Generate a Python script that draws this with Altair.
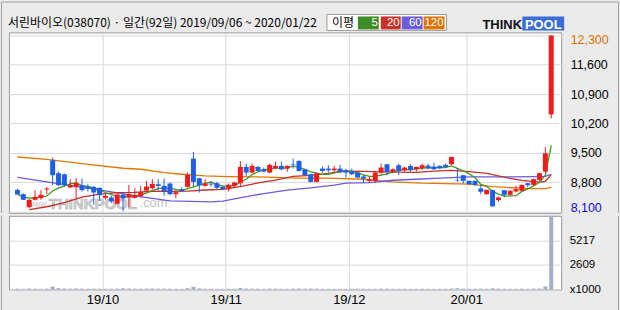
import altair as alt
import pandas as pd

# ---------------- data ----------------
opens = [8613, 8510, 8201, 8376, 8415, 8622, 9319, 9010, 8986, 8669,
         8677, 8725, 8685, 8685, 8661, 8423, 8430, 8280, 8494, 8431,
         8423, 8463, 8597, 8653, 8748, 8709, 8764, 8510, 8630, 8685,
         9359, 8891, 8709, 8760, 8772, 8685, 8629, 8709, 8772, 9161,
         9026, 9161, 9105, 9026, 9129, 9185, 9121, 9224, 9303, 9105,
         8986, 8804, 9121, 9121, 9081, 9121, 9081, 9050, 9026, 8931,
         8827, 8827, 9026, 9224, 9042, 9200, 9081, 9185, 9105, 9129,
         9192, 9168, 9185, 9209, 9225, 8840, 8963, 8829, 8829, 8646,
         8511, 8606, 8368, 8606, 8496, 8575, 8590, 8773, 8733, 8852,
         9051, 10415]
highs = [8640, 8530, 8390, 8606, 8606, 8685, 9383, 9050, 9000, 8867,
         8891, 8883, 8748, 8700, 8670, 8510, 8471, 8520, 8550, 8732,
         8661, 8709, 8828, 8867, 8867, 8883, 8788, 8606, 8670, 9026,
         9518, 8900, 8867, 8820, 8800, 8700, 8765, 8812, 9303, 9240,
         9240, 9185, 9145, 9240, 9288, 9288, 9200, 9359, 9320, 9110,
         9002, 9026, 9170, 9200, 9184, 9208, 9121, 9121, 9030, 8970,
         8930, 9042, 9240, 9230, 9129, 9240, 9161, 9224, 9170, 9240,
         9240, 9260, 9200, 9240, 9405, 9130, 8965, 8835, 8835, 8733,
         8614, 8610, 8456, 8610, 8606, 8710, 8733, 8775, 8884, 9027,
         9637, 12300]
lows = [8500, 8370, 8180, 8360, 8376, 8510, 8725, 8700, 8685, 8660,
        8407, 8574, 8574, 8257, 8352, 8376, 8300, 8270, 8100, 8193,
        8407, 8431, 8566, 8630, 8606, 8471, 8487, 8415, 8570, 8669,
        8685, 8550, 8690, 8690, 8630, 8610, 8575, 8685, 8685, 8946,
        9010, 9050, 9026, 9010, 9105, 9081, 9050, 9121, 9050, 8950,
        8788, 8788, 9026, 9026, 9026, 9010, 8907, 8962, 8891, 8772,
        8788, 8788, 8986, 8962, 9010, 8970, 9050, 9050, 9050, 9089,
        9105, 9089, 9105, 9145, 9209, 8805, 8765, 8725, 8710, 8511,
        8495, 8218, 8329, 8432, 8472, 8551, 8575, 8670, 8710, 8828,
        9027, 10320]
closes = [8502, 8376, 8376, 8447, 8495, 8646, 8962, 8725, 8725, 8725,
          8772, 8606, 8638, 8550, 8487, 8471, 8340, 8502, 8407, 8510,
          8494, 8558, 8693, 8756, 8709, 8582, 8510, 8558, 8582, 8970,
          8804, 8725, 8764, 8740, 8661, 8630, 8733, 8788, 9161, 9026,
          9185, 9065, 9050, 9208, 9185, 9105, 9185, 9210, 9065, 8962,
          8804, 9010, 9065, 9081, 9121, 9050, 9026, 8986, 8907, 8883,
          8867, 9026, 9145, 9042, 9105, 9065, 9145, 9089, 9161, 9200,
          9129, 9105, 9130, 9161, 9400, 8830, 8829, 8750, 8733, 8567,
          8614, 8218, 8432, 8496, 8590, 8630, 8733, 8725, 8868, 9011,
          9487, 12300]
vols = [95, 80, 110, 90, 85, 100, 320, 150, 110, 90,
        120, 95, 80, 100, 90, 85, 90, 100, 130, 110,
        95, 90, 100, 110, 95, 100, 90, 85, 80, 140,
        300, 130, 90, 85, 80, 75, 90, 85, 180, 110,
        100, 90, 85, 100, 95, 90, 85, 100, 110, 95,
        105, 100, 85, 80, 75, 80, 85, 90, 95, 85,
        80, 90, 100, 95, 85, 90, 80, 75, 80, 85,
        80, 75, 80, 85, 110, 140, 95, 90, 85, 100,
        90, 130, 95, 90, 85, 80, 95, 85, 100, 110,
        330, 7826]

ma20_i = [2, 5, 8, 11, 14, 17, 20, 23, 26, 29, 32, 35, 38, 41, 44, 47, 50,
          53, 56, 59, 62, 65, 68, 71, 74, 77, 80, 84, 86, 88, 89, 90, 91]
ma20_v = [8140, 8210, 8310, 8440, 8510, 8545, 8555, 8580, 8575, 8585, 8610,
          8625, 8690, 8780, 8845, 8935, 8960, 9005, 9060, 9055, 9045, 9035,
          9030, 9060, 9080, 9050, 9005, 8885, 8842, 8808, 8800, 8818, 8976]
ma60_i = [0, 5, 10, 15, 20, 26, 33, 35, 39, 42, 46, 50, 54, 56, 60, 64, 68,
          72, 77, 82, 88, 90, 91]
ma60_v = [8910, 8803, 8696, 8589, 8470, 8351, 8327, 8344, 8453, 8524, 8605,
          8660, 8724, 8772, 8786, 8843, 8867, 8891, 8922, 8922, 8929, 8935, 8986]
ma120_i = [0, 5, 11, 18, 21, 25, 28, 32, 36, 41, 48, 53, 59, 62, 64, 69, 77,
           81, 87, 90, 91]
ma120_v = [9398, 9343, 9238, 9129, 9105, 9024, 8986, 8946, 8929, 8922, 8891,
           8891, 8867, 8827, 8803, 8772, 8748, 8691, 8643, 8643, 8671]

price_ticks = [8100, 8800, 9500, 10200, 10900, 11600, 12300]
vol_ticks = [0, 2609, 5217]
month_pos = [14.5, 35.5, 56.5, 76.5]
month_labels = ['19/10', '19/11', '19/12', '20/01']

title_text = '서린바이오(038070) · 일간(92일) 2019/09/06 ~ 2020/01/22'
ma_names = ['5', '20', '60', '120']

# ---------------- styling ----------------
UP = '#f01c1c'
DOWN = '#1f5fe6'
C5 = '#3d9a1e'
C20 = '#c4302b'
C60 = '#6a5ce0'
C120 = '#e07800'
GRID = '#d9d9d9'
FRAME = '#a0a0a0'
FONT = 'Liberation Sans'

df = pd.DataFrame({'i': list(range(len(opens))), 'open': opens, 'high': highs,
                   'low': lows, 'close': closes, 'vol': vols})
ma20 = pd.DataFrame({'i': ma20_i, 'v': ma20_v})
ma60 = pd.DataFrame({'i': ma60_i, 'v': ma60_v})
ma120 = pd.DataFrame({'i': ma120_i, 'v': ma120_v})

xscale = alt.Scale(domain=[-0.6, 91.85], nice=False, zero=False)
pscale = alt.Scale(domain=[8065, 12373], nice=False, zero=False)

px_axis = alt.Axis(values=month_pos, labels=False, ticks=False, domain=False,
                   grid=True, gridColor=GRID, title=None)
py_axis = alt.Axis(
    orient='right', values=price_ticks, format=',d', grid=True, gridColor=GRID,
    ticks=False, domain=False, labelPadding=9, labelFont=FONT, labelFontSize=12.5,
    labelColor={"condition": [{"test": "datum.value == 12300", "value": "#e07000"},
                              {"test": "datum.value == 8100", "value": "#0c0cd0"}],
                "value": "#000000"},
    labelOffset={"condition": [{"test": "datum.value == 12300", "value": 4},
                               {"test": "datum.value == 8100", "value": -4}],
                 "value": 0},
    title=None)


def xe():
    return alt.X('i:Q', scale=xscale, axis=px_axis)


def ye(f):
    return alt.Y(f'{f}:Q', scale=pscale, axis=py_axis)


color_enc = alt.Color('dir:N', scale=alt.Scale(domain=['up', 'down'], range=[UP, DOWN]),
                      legend=None)

base = alt.Chart(df).transform_calculate(dir="datum.close >= datum.open ? 'up' : 'down'")
wicks = base.mark_rule(strokeWidth=1).encode(x=xe(), y=ye('low'), y2='high:Q', color=color_enc)
bodies = base.mark_bar(size=5).encode(x=xe(), y=ye('open'), y2='close:Q', color=color_enc)

l5 = alt.Chart(df).transform_window(
    ma5='mean(close)', frame=[-4, 0], sort=[alt.SortField('i')]
).mark_line(color=C5, strokeWidth=1.3).encode(x=xe(), y=ye('ma5'))
l20 = alt.Chart(ma20).mark_line(color=C20, strokeWidth=1.3).encode(x=xe(), y=ye('v'))
l60 = alt.Chart(ma60).mark_line(color=C60, strokeWidth=1.3).encode(x=xe(), y=ye('v'))
l120 = alt.Chart(ma120).mark_line(color=C120, strokeWidth=1.3).encode(x=xe(), y=ye('v'))


def one():
    return pd.DataFrame({'t': [0]})


def txt(s, x, y, **kw):
    return alt.Chart(pd.DataFrame({'t': [s]})).mark_text(**kw).encode(
        text='t:N', x=alt.value(x), y=alt.value(y))


def box(x, x2, y, y2, **kw):
    return alt.Chart(one()).mark_rect(**kw).encode(
        x=alt.value(x), x2=alt.value(x2), y=alt.value(y), y2=alt.value(y2))


def hline(x, x2, y):
    return alt.Chart(one()).mark_rule(color=FRAME, strokeWidth=1).encode(
        x=alt.value(x), x2=alt.value(x2), y=alt.value(y))


def vline(x, y, y2):
    return alt.Chart(one()).mark_rule(color=FRAME, strokeWidth=1).encode(
        x=alt.value(x), y=alt.value(y), y2=alt.value(y2))


# outer frame (top part)
frame = [hline(-7.5, 611.5, -30.5), vline(-7.5, -30.5, 181), vline(611.5, -30.5, 181)]

# watermark
wm = [
    txt('www.', 19, 175, align='left', baseline='alphabetic', fontSize=8.5,
        font=FONT, color='#c4c4c4'),
    txt('THINKPOOL', 40, 177, align='left', baseline='alphabetic', fontSize=15,
        font=FONT, fontWeight='bold', fill='#d2d2d2', stroke='#b4b4b4', strokeWidth=0.6),
    txt('.com', 131, 175, align='left', baseline='alphabetic', fontSize=13,
        font=FONT, color='#c4c4c4'),
]

# header
header = [
    txt(title_text, -1, -9.5, align='left', baseline='middle', fontSize=12,
        font='Noto Sans CJK KR', color='#000000'),
    box(319, 439, -18, -2, fill='white', stroke='#999999', strokeWidth=1),
    txt('이평', 324, -9.5, align='left', baseline='middle', fontSize=12,
        font='Noto Sans CJK KR', color='#000000'),
]
box_spans = [(350, 371), (373, 393), (394, 415), (416, 437)]
box_cols = ['#3d8c25', '#c83228', '#6a5fd8', '#e07400']
for (a, b), c, n in zip(box_spans, box_cols, ma_names):
    header.append(box(a, b, -16, -3, fill=c))
    header.append(txt(n, b - 1, -9.5, align='right', baseline='middle', fontSize=11.5,
                      font=FONT, color='white'))
header += [
    txt('THINK', 475, -3.5, align='left', baseline='alphabetic', fontSize=13,
        font=FONT, fontWeight='bold', color='#111111'),
    box(515, 557, -16, -2, fill='#3a6ed6'),
    txt('POOL', 536, -3.5, align='center', baseline='alphabetic', fontSize=13,
        font=FONT, fontWeight='bold', color='white'),
]

price = alt.layer(*frame, *wm, l120, l60, l20, l5, wicks, bodies, *header).properties(
    width=554, height=181)

# ---------------- volume panel ----------------
month_expr = ' : '.join(f"datum.value == {p} ? '{l}'" for p, l in zip(month_pos, month_labels)) + " : ''"
vx_axis = alt.Axis(values=month_pos, labelExpr=month_expr, grid=True, gridColor=GRID,
                   ticks=False, domain=False, labelFont=FONT, labelFontSize=13,
                   labelPadding=4, labelFlush=False, labelColor='#000000', title=None)
vy_axis = alt.Axis(orient='right', values=vol_ticks,
                   labelExpr="datum.value == 0 ? 'x1000' : format(datum.value, 'd')",
                   grid=True, gridColor=GRID, ticks=False, domain=False, labelPadding=8,
                   labelFont=FONT, labelFontSize=11.5, labelColor='#000000', title=None)

vbars = alt.Chart(df).mark_bar(size=4, color='#a4aec6').encode(
    x=alt.X('i:Q', scale=xscale, axis=vx_axis),
    y=alt.Y('vol:Q', scale=alt.Scale(domain=[0, 7826], nice=False, zero=True), axis=vy_axis),
)
vframe = [vline(-7.5, 0, 95.5), vline(611.5, 0, 95.5), hline(-7.5, 611.5, 95.5)]
volume = alt.layer(vbars, *vframe).properties(width=554, height=74)

chart = alt.vconcat(price, volume, spacing=0).properties(
    padding={'left': 0, 'top': 0, 'right': 0, 'bottom': 0},
    background='#ebebeb',
).configure_view(stroke='#9a9a9a', strokeWidth=1, fill='white')

chart.save('out.html', embed_options={'renderer': 'svg', 'actions': False})
